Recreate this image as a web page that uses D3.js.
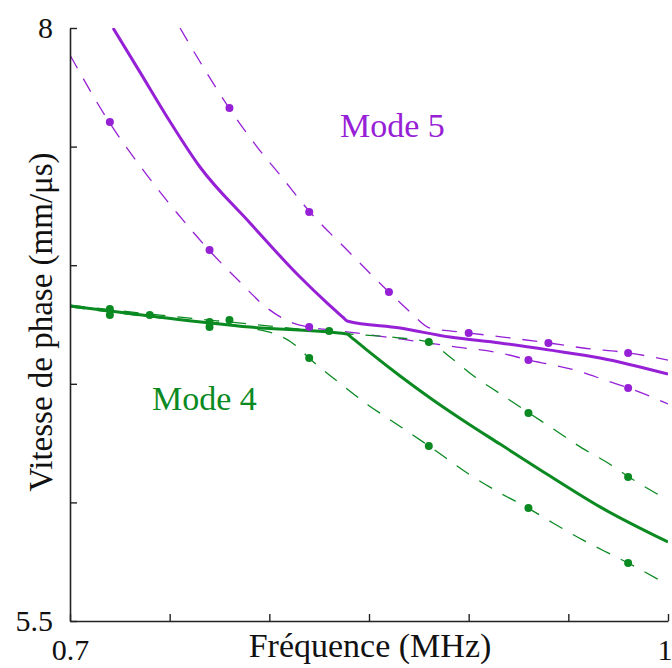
<!DOCTYPE html>
<html><head><meta charset="utf-8">
<script src="https://cdn.jsdelivr.net/npm/d3@7"></script>
<style>html,body{margin:0;padding:0;background:#fff;}svg{display:block;}</style>
</head><body>
<script>
// ---- data ----
const xTicks = [0.7, 0.75, 0.8, 0.85, 0.9, 0.95, 1.0];
const yTicks = [5.5, 6.0, 6.5, 7.0, 7.5, 8.0];
const xTickLabels = {"0.7": "0.7", "1": "1"};
const yTickLabels = {"5.5": "5.5", "8": "8"};

// Mode 5 theory (solid)
const mode5Solid = [[0.7216,8.0],[0.7351,7.814],[0.7487,7.625],[0.7652,7.414],[0.7903,7.178],[0.8154,6.950],[0.8289,6.841],[0.8370,6.780],[0.8390,6.765],[0.8656,6.735],[0.8906,6.697],[0.9157,6.672],[0.9408,6.642],[0.9659,6.609],[1.0,6.541]];
// Mode 4 theory (solid)
const mode4Solid = [[0.7,6.828],[0.7401,6.786],[0.7903,6.739],[0.8390,6.710],[0.8410,6.697],[0.849,6.642],[0.8656,6.533],[0.8821,6.432],[0.8992,6.335],[0.9157,6.246],[0.9408,6.111],[0.9659,5.981],[1.0,5.833]];
// Mode 5 dashed bounds
const mode5DashLow = [[0.7,7.886],[0.7196,7.604],[0.7386,7.380],[0.7537,7.220],[0.7697,7.064],[0.7853,6.929],[0.7988,6.820],[0.8119,6.756],[0.8199,6.739],[0.8355,6.723],[0.8656,6.689],[0.8941,6.655],[0.9157,6.630],[0.9303,6.600],[0.9549,6.554],[0.9684,6.516],[0.9804,6.482],[1.0,6.415]];
const mode5DashHigh = [[0.7552,8.0],[0.7677,7.823],[0.7798,7.663],[0.7943,7.494],[0.8054,7.380],[0.8204,7.224],[0.8390,7.064],[0.8600,6.887],[0.8706,6.803],[0.8806,6.735],[0.8906,6.723],[0.9002,6.714],[0.9172,6.697],[0.9403,6.672],[0.9574,6.651],[0.9804,6.630],[1.0,6.600]];
// Mode 4 dashed bounds
const mode4DashLow = [[0.7,6.824],[0.7401,6.782],[0.7903,6.735],[0.8054,6.702],[0.8129,6.664],[0.8199,6.609],[0.8365,6.495],[0.8495,6.411],[0.8630,6.335],[0.8801,6.238],[0.9007,6.116],[0.9157,6.040],[0.9298,5.976],[0.9423,5.913],[0.9574,5.841],[0.9699,5.787],[0.9799,5.745],[1.0,5.652]];
const mode4DashHigh = [[0.7,6.832],[0.7401,6.794],[0.7903,6.752],[0.8405,6.710],[0.8656,6.693],[0.8801,6.676],[0.8906,6.613],[0.9032,6.529],[0.9167,6.453],[0.9303,6.377],[0.9433,6.305],[0.9569,6.229],[0.9699,6.166],[0.9804,6.107],[1.0,6.010]];
// measured points
const mode5Points = [[0.72,7.604],[0.77,7.064],[0.82,6.739],[0.93,6.600],[0.98,6.482],[0.78,7.663],[0.82,7.224],[0.86,6.887],[0.90,6.714],[0.94,6.672],[0.98,6.630]];
const mode4Points = [[0.72,6.815],[0.72,6.790],[0.74,6.790],[0.77,6.761],[0.77,6.739],[0.78,6.769],[0.82,6.609],[0.83,6.723],[0.88,6.676],[0.88,6.238],[0.93,6.377],[0.93,5.976],[0.98,6.107],[0.98,5.745]];

const PURPLE = "#9620d6", GREEN = "#0b8a22";
const SERIF = "'Liberation Serif','Times New Roman',serif";

// ---- layout ----
const W = 672, H = 668;
const svg = d3.select("body").append("svg").attr("width", W).attr("height", H);
const x = d3.scaleLinear().domain([0.7, 1.0]).range([70, 668]);
const y = d3.scaleLinear().domain([5.5, 8.0]).range([621, 28]);

svg.append("defs").append("clipPath").attr("id","clip")
  .append("rect").attr("x",70).attr("y",28).attr("width",598).attr("height",593);

const g = svg.append("g").attr("clip-path","url(#clip)");
const line = d3.line().x(d=>x(d[0])).y(d=>y(d[1])).curve(d3.curveMonotoneX);

function dashed(data, color){
  g.append("path").datum(data).attr("d", line).attr("fill","none")
   .attr("stroke", color).attr("stroke-width",1.3).attr("stroke-dasharray","15,12");
}
function solid(data, color){
  g.append("path").datum(data).attr("d", line).attr("fill","none")
   .attr("stroke", color).attr("stroke-width",3);
}
dashed(mode5DashLow, PURPLE);
dashed(mode5DashHigh, PURPLE);
dashed(mode4DashLow, GREEN);
dashed(mode4DashHigh, GREEN);
solid(mode5Solid, PURPLE);
solid(mode4Solid, GREEN);

g.selectAll("circle.p5").data(mode5Points).join("circle").attr("class","p5")
  .attr("cx",d=>x(d[0])).attr("cy",d=>y(d[1])).attr("r",4).attr("fill",PURPLE);
g.selectAll("circle.p4").data(mode4Points).join("circle").attr("class","p4")
  .attr("cx",d=>x(d[0])).attr("cy",d=>y(d[1])).attr("r",4).attr("fill",GREEN);

// ---- axes ----
const axisColor = "#222";
const xAxis = d3.axisBottom(x).tickValues(xTicks).tickSizeInner(-7).tickSizeOuter(0)
  .tickFormat(d => xTickLabels[String(+d.toFixed(2))] || "");
const yAxis = d3.axisLeft(y).tickValues(yTicks).tickSizeInner(-7).tickSizeOuter(0)
  .tickFormat(d => yTickLabels[String(+d.toFixed(2))] || "");

const gx = svg.append("g").attr("transform","translate(0,621)").call(xAxis);
const gy = svg.append("g").attr("transform","translate(70,0)").call(yAxis);
[gx, gy].forEach(a => {
  a.select(".domain").attr("stroke",axisColor).attr("stroke-width",1.6);
  a.selectAll(".tick line").attr("stroke",axisColor).attr("stroke-width",1.4);
  a.selectAll("text").attr("fill","#111").style("font-family",SERIF).style("font-size","30px");
});
gx.selectAll(".tick text").attr("y",null).attr("dy",null).attr("transform","translate(0,39)");
// keep the last x label inside the picture
gx.selectAll(".tick text").filter(d => d === 1.0).attr("text-anchor","end").attr("transform","translate(4,39)");
gy.selectAll(".tick text").attr("x",-17).attr("dy","0.32em");

// axis titles
svg.append("text").attr("x",370).attr("y",657).attr("text-anchor","middle")
  .style("font-family",SERIF).style("font-size","34px").attr("fill","#111")
  .text("Fréquence (MHz)");
svg.append("text").attr("transform","translate(52,322) rotate(-90)").attr("text-anchor","middle")
  .style("font-family",SERIF).style("font-size","33px").attr("fill","#111")
  .text("Vitesse de phase (mm/μs)");

// mode labels
svg.append("text").attr("x",340).attr("y",137)
  .style("font-family",SERIF).style("font-size","34px").attr("fill",PURPLE)
  .text("Mode 5");
svg.append("text").attr("x",152).attr("y",410)
  .style("font-family",SERIF).style("font-size","34px").attr("fill",GREEN)
  .text("Mode 4");
</script>
</body></html>
